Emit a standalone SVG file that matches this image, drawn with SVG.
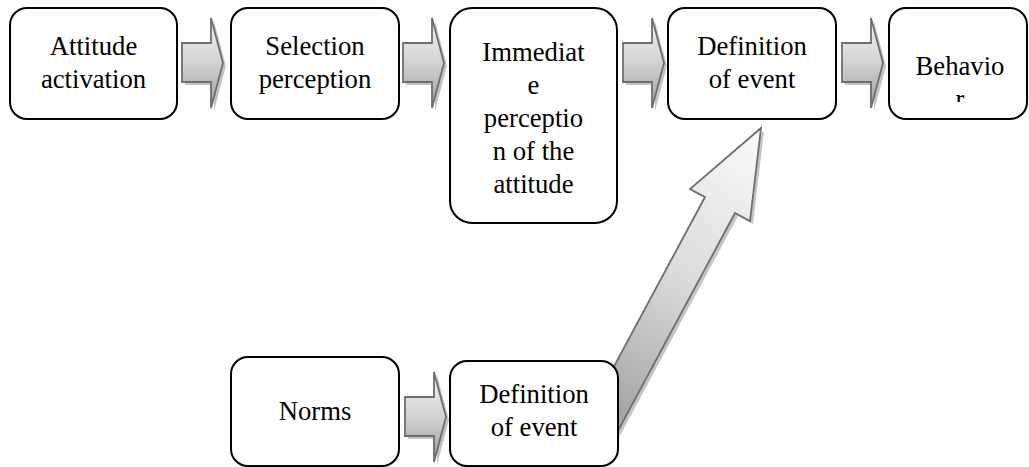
<svg xmlns="http://www.w3.org/2000/svg" width="1029" height="467" viewBox="0 0 1029 467">
<style>
.box{fill:#fff;stroke:#000;stroke-width:2}
text{font-family:'Liberation Serif','DejaVu Serif',serif;font-size:26.7px;fill:#000;text-anchor:middle}
.arr{stroke:#6e6e6e;stroke-width:1.8;stroke-linejoin:miter}
.shadow{fill:#c4c4c4}
</style>
<defs>
<linearGradient id="gH" x1="0" y1="0" x2="0" y2="1">
<stop offset="0" stop-color="#f4f4f4"/>
<stop offset="0.5" stop-color="#d2d2d2"/>
<stop offset="1" stop-color="#9c9c9c"/>
</linearGradient>
<linearGradient id="gD" gradientUnits="userSpaceOnUse" x1="761" y1="128" x2="597" y2="434">
<stop offset="0" stop-color="#fbfbfb"/>
<stop offset="0.5" stop-color="#dadada"/>
<stop offset="1" stop-color="#9a9a9a"/>
</linearGradient>
<path id="ha" d="M0,43 H29 V18 L41,63 L29,108 V82 H0 Z"/>
<clipPath id="c5"><rect x="889" y="8" width="138" height="94"/></clipPath>
</defs>
<g id="connectors">
<g transform="translate(182,0)"><use href="#ha" class="shadow" transform="translate(3,3)"/><use href="#ha" class="arr" fill="url(#gH)"/></g>
<g transform="translate(403,0)"><use href="#ha" class="shadow" transform="translate(3,3)"/><use href="#ha" class="arr" fill="url(#gH)"/></g>
<g transform="translate(623,0)"><use href="#ha" class="shadow" transform="translate(3,3)"/><use href="#ha" class="arr" fill="url(#gH)"/></g>
<g transform="translate(842,0)"><use href="#ha" class="shadow" transform="translate(3,3)"/><use href="#ha" class="arr" fill="url(#gH)"/></g>
<g transform="translate(405,354)"><use href="#ha" class="shadow" transform="translate(3,3)"/><use href="#ha" class="arr" fill="url(#gH)"/></g>
<polygon class="shadow" transform="translate(3,3)" points="582,426 705,197 690,189 761,128 750,221 735,213 612,442"/>
<polygon class="arr" fill="url(#gD)" points="582,426 705,197 690,189 761,128 750,221 735,213 612,442"/>
</g>
<g font-family="Liberation Serif, DejaVu Serif, serif">
<g id="node-attitude-activation">
<rect class="box" x="10" y="8" width="167" height="111" rx="17"/>
<text x="93.5" y="55">Attitude</text>
<text x="93.5" y="88">activation</text>
</g>
<g id="node-selection-perception">
<rect class="box" x="231" y="8" width="168" height="111" rx="17"/>
<text x="315" y="55">Selection</text>
<text x="315" y="88">perception</text>
</g>
<g id="node-immediate-perception">
<rect class="box" x="450" y="8" width="167" height="215" rx="22"/>
<text x="533.5" y="61">Immediat</text>
<text x="533.5" y="94">e</text>
<text x="533.5" y="127">perceptio</text>
<text x="533.5" y="160">n of the</text>
<text x="533.5" y="193">attitude</text>
</g>
<g id="node-definition-event-top">
<rect class="box" x="668" y="8" width="168" height="111" rx="17"/>
<text x="752" y="55">Definition</text>
<text x="752" y="88">of event</text>
</g>
<g id="node-behavior">
<rect class="box" x="889" y="8" width="138" height="111" rx="17"/>
<g clip-path="url(#c5)">
<text x="960" y="75">Behavio</text>
<text x="960" y="108">r</text>
</g>
</g>
<g id="node-norms">
<rect class="box" x="231" y="357" width="168" height="109" rx="17"/>
<text x="315" y="420">Norms</text>
</g>
<g id="node-definition-event-bottom">
<rect class="box" x="450" y="361" width="168" height="105" rx="17"/>
<text x="534" y="403">Definition</text>
<text x="534" y="436">of event</text>
</g>
</g>
</svg>
